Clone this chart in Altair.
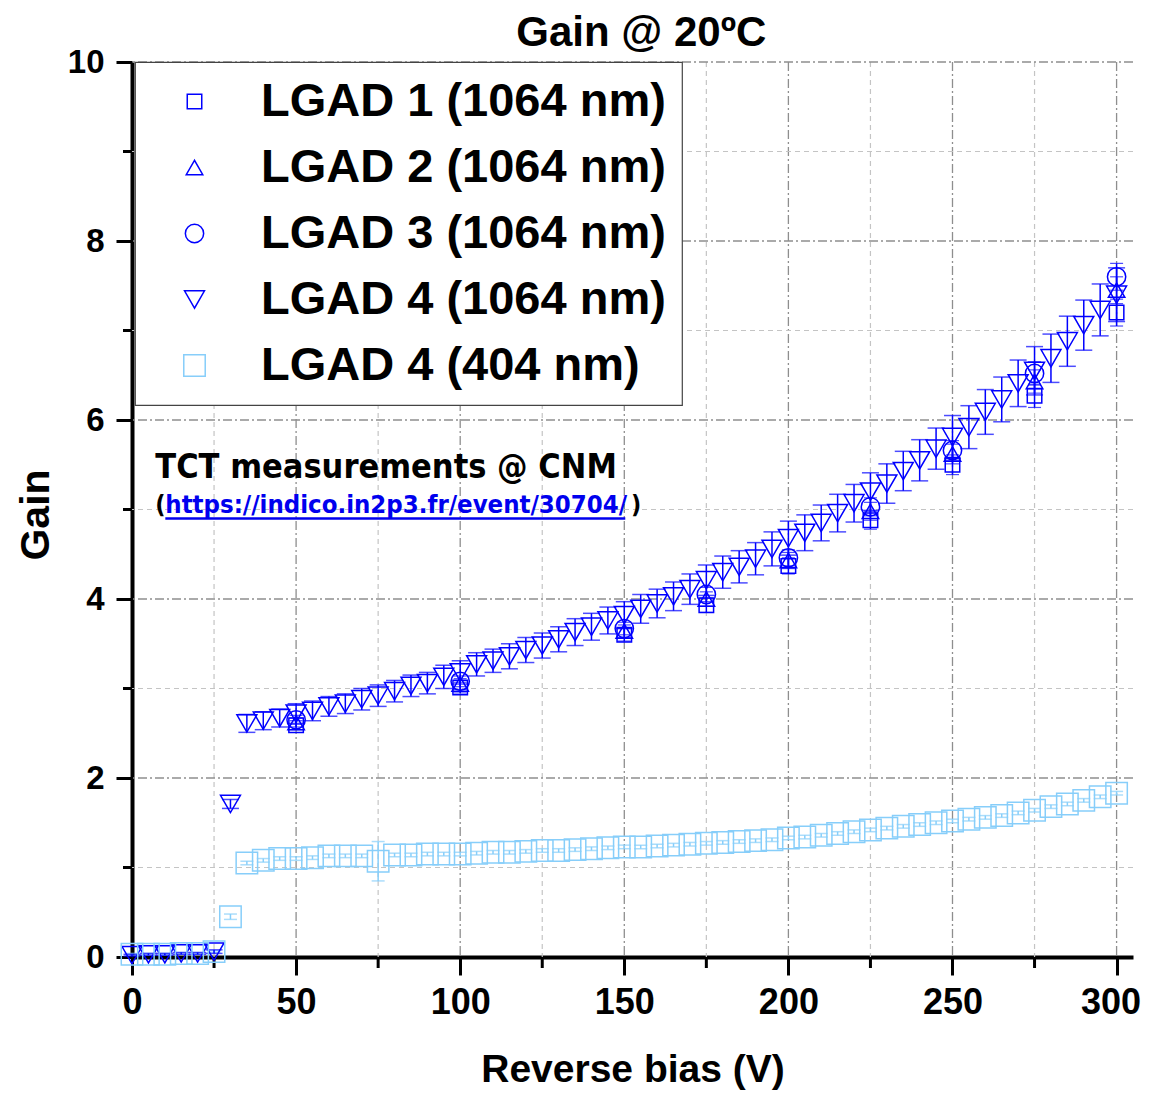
import altair as alt
import pandas as pd

# ---------------- data ----------------
bias_5v = list(range(0, 305, 5))

gain_lgad4_1064 = [0.02, 0.03, 0.03, 0.04, 0.04, 0.06, 1.71,
                   2.61, 2.64, 2.67, 2.72, 2.75, 2.80, 2.83, 2.88, 2.92, 2.97, 3.03, 3.06, 3.13,
                   3.18, 3.27, 3.31, 3.36, 3.43, 3.48, 3.55, 3.63, 3.69, 3.76, 3.82, 3.89, 3.95,
                   4.03, 4.11, 4.21, 4.30, 4.36, 4.45, 4.56, 4.68,
                   4.74, 4.85, 4.96, 5.07, 5.20, 5.29, 5.43, 5.55, 5.68, 5.81,
                   5.92, 6.09, 6.23, 6.41, 6.55, 6.69, 6.88, 7.06, 7.23, 7.40]
err_lgad4_1064 = [0.01, 0.01, 0.01, 0.01, 0.01, 0.02, 0.05,
                  0.10, 0.10, 0.10, 0.11, 0.11, 0.11, 0.11, 0.12, 0.12, 0.12, 0.12, 0.12, 0.13,
                  0.13, 0.13, 0.13, 0.14, 0.14, 0.14, 0.14, 0.15, 0.15, 0.15, 0.15, 0.16, 0.16,
                  0.16, 0.17, 0.17, 0.18, 0.18, 0.18, 0.19, 0.19,
                  0.20, 0.20, 0.21, 0.21, 0.21, 0.22, 0.22, 0.23, 0.23, 0.24,
                  0.24, 0.25, 0.25, 0.26, 0.27, 0.27, 0.28, 0.28, 0.29, 0.30]

gain_lgad4_404 = [0.03, 0.03, 0.03, 0.04, 0.04, 0.06, 0.45,
                  1.05, 1.08, 1.10, 1.10, 1.11, 1.13, 1.13, 1.13, 1.07, 1.14, 1.14, 1.15, 1.15,
                  1.15, 1.16, 1.17, 1.17, 1.18, 1.19, 1.19, 1.20, 1.21, 1.22, 1.23, 1.23, 1.24,
                  1.25, 1.26, 1.27, 1.28, 1.29, 1.30, 1.31, 1.33,
                  1.34, 1.36, 1.38, 1.40, 1.42, 1.44, 1.46, 1.48, 1.50, 1.52,
                  1.54, 1.56, 1.58, 1.61, 1.64, 1.68, 1.71, 1.75, 1.79, 1.83]
err_lgad4_404 = [0.01, 0.01, 0.01, 0.01, 0.01, 0.01, 0.03,
                 0.02, 0.02, 0.02, 0.02, 0.02, 0.02, 0.02, 0.02, 0.22, 0.02, 0.02, 0.02, 0.02,
                 0.02, 0.02, 0.02, 0.02, 0.02, 0.02, 0.02, 0.02, 0.02, 0.02, 0.02, 0.02, 0.02,
                 0.02, 0.02, 0.02, 0.02, 0.02, 0.02, 0.02, 0.02,
                 0.02, 0.02, 0.02, 0.02, 0.02, 0.02, 0.02, 0.02, 0.02, 0.02,
                 0.02, 0.02, 0.02, 0.02, 0.02, 0.02, 0.02, 0.02, 0.02, 0.02]

bias_sparse = [50, 100, 150, 175, 200, 225, 250, 275, 300]
gain_lgad1 = [2.59, 3.01, 3.60, 3.93, 4.37, 4.88, 5.50, 6.27, 7.20]
gain_lgad2 = [2.62, 3.05, 3.64, 4.00, 4.43, 4.98, 5.62, 6.43, 7.45]
gain_lgad3 = [2.65, 3.08, 3.67, 4.05, 4.46, 5.03, 5.66, 6.52, 7.60]
err_lgad123 = [0.05, 0.06, 0.07, 0.08, 0.09, 0.10, 0.11, 0.13, 0.15]

series_names = ["LGAD 1 (1064 nm)", "LGAD 2 (1064 nm)", "LGAD 3 (1064 nm)",
                "LGAD 4 (1064 nm)", "LGAD 4 (404 nm)"]
series_shapes = ["square", "triangle-up", "circle", "triangle-down", "square"]
series_colors = ["#0000FF", "#0000FF", "#0000FF", "#0000FF", "#87CEFA"]
series_sizes = [210, 460, 330, 480, 185]

x_major = [0, 50, 100, 150, 200, 250, 300]
x_minor = [25, 75, 125, 175, 225, 275]
y_major = [0, 2, 4, 6, 8, 10]
y_minor = [1, 3, 5, 7, 9]

title_text = "Gain @ 20ºC"
note_line1 = "TCT measurements @ CNM"
note_url = "https://indico.in2p3.fr/event/30704/"

# ---------------- tables ----------------
def frame(name, xs, ys, es):
    d = pd.DataFrame({"series": name, "bias": xs, "gain": ys, "err": es})
    d["lo"] = d["gain"] - d["err"]
    d["hi"] = d["gain"] + d["err"]
    return d

df_pts = pd.concat([
    frame(series_names[3], bias_5v, gain_lgad4_1064, err_lgad4_1064),
    frame(series_names[4], bias_5v, gain_lgad4_404, err_lgad4_404),
    frame(series_names[0], bias_sparse, gain_lgad1, err_lgad123),
    frame(series_names[1], bias_sparse, gain_lgad2, err_lgad123),
    frame(series_names[2], bias_sparse, gain_lgad3, err_lgad123),
], ignore_index=True)

df_blue = df_pts[df_pts["series"] != series_names[4]]
df_l4_1064 = df_pts[df_pts["series"] == series_names[3]]
df_l123 = df_pts[df_pts["series"].isin(series_names[:3])]
df_light = df_pts[df_pts["series"] == series_names[4]]

SANS = "Liberation Sans, Arial, Helvetica"
NOTE = "DejaVu Sans Condensed, DejaVu Sans, Verdana"

xscale = alt.Scale(domain=[0, 305], nice=False, zero=False)
yscale = alt.Scale(domain=[0, 10], nice=False, zero=False)

xaxis = alt.Axis(values=x_major, title="Reverse bias (V)", grid=False,
                 tickSize=18, tickWidth=3, tickColor="black",
                 domainWidth=4, domainColor="black",
                 labelFont=SANS, labelFontSize=36, labelFontWeight="bold",
                 labelColor="black", labelPadding=10, labelFlush=False,
                 labelOverlap=False,
                 labelOffset={"condition": {"test": "datum.value == 300", "value": -6},
                              "value": 0},
                 titleFont=SANS, titleFontSize=39, titleFontWeight="bold",
                 titleColor="black", titleBaseline="alphabetic", titleY=124)
yaxis = alt.Axis(values=y_major, title="Gain", grid=False,
                 tickSize=16, tickWidth=3, tickColor="black",
                 domainWidth=4, domainColor="black",
                 labelFont=SANS, labelFontSize=33, labelFontWeight="bold",
                 labelColor="black", labelPadding=12, labelFlush=False,
                 labelOverlap=False,
                 titleFont=SANS, titleFontSize=41, titleFontWeight="bold",
                 titleColor="black", titleAngle=270, titleBaseline="alphabetic",
                 titleX=-84, titleY=452.5, titleAlign="center")


def X(field):
    return alt.X(field, type="quantitative", scale=xscale, axis=xaxis)


def Y(field):
    return alt.Y(field, type="quantitative", scale=yscale, axis=yaxis)


# grid lines
grid_x_minor = alt.Chart(pd.DataFrame({"v": x_minor})).mark_rule(
    color="#c4c4c4", strokeDash=[5, 4], strokeWidth=1.2).encode(x=X("v"))
grid_x_major = alt.Chart(pd.DataFrame({"v": x_major[1:]})).mark_rule(
    color="#8e8e8e", strokeDash=[9, 3, 2, 3], strokeWidth=1.3).encode(x=X("v"))
grid_y_minor = alt.Chart(pd.DataFrame({"v": y_minor})).mark_rule(
    color="#c4c4c4", strokeDash=[5, 4], strokeWidth=1.2).encode(y=Y("v"))
grid_y_major = alt.Chart(pd.DataFrame({"v": y_major[1:]})).mark_rule(
    color="#8e8e8e", strokeDash=[9, 3, 2, 3], strokeWidth=1.3).encode(y=Y("v"))

# minor ticks
minor_x_ticks = alt.Chart(pd.DataFrame({"v": x_minor})).mark_rule(
    color="black", strokeWidth=3).encode(x=X("v"), y=alt.value(895), y2=alt.value(906))
minor_y_ticks = alt.Chart(pd.DataFrame({"v": y_minor})).mark_rule(
    color="black", strokeWidth=3).encode(y=Y("v"), x=alt.value(0), x2=alt.value(-9))

# error bars
err_blue = alt.Chart(df_blue).mark_rule(color="#0000FF", strokeWidth=1.5).encode(
    x=X("bias"), y=Y("lo"), y2="hi")
cap_l4_lo = alt.Chart(df_l4_1064).mark_tick(
    color="#0000FF", orient="horizontal", size=17, thickness=1.5).encode(x=X("bias"), y=Y("lo"))
cap_l4_hi = alt.Chart(df_l4_1064).mark_tick(
    color="#0000FF", orient="horizontal", size=17, thickness=1.5).encode(x=X("bias"), y=Y("hi"))
cap_l123_lo = alt.Chart(df_l123).mark_tick(
    color="#0000FF", orient="horizontal", size=13, thickness=1.2).encode(x=X("bias"), y=Y("lo"))
cap_l123_hi = alt.Chart(df_l123).mark_tick(
    color="#0000FF", orient="horizontal", size=13, thickness=1.2).encode(x=X("bias"), y=Y("hi"))
err_light = alt.Chart(df_light).mark_rule(color="#87CEFA", strokeWidth=1.5).encode(
    x=X("bias"), y=Y("lo"), y2="hi")
cap_light_lo = alt.Chart(df_light).mark_tick(
    color="#87CEFA", orient="horizontal", size=13, thickness=1.5).encode(x=X("bias"), y=Y("lo"))
cap_light_hi = alt.Chart(df_light).mark_tick(
    color="#87CEFA", orient="horizontal", size=13, thickness=1.5).encode(x=X("bias"), y=Y("hi"))

legend = alt.Legend(title=None, orient="none", legendX=3, legendY=0,
                    padding=16, rowPadding=18, symbolOffset=20, labelOffset=43,
                    symbolSize=260, symbolStrokeWidth=1.5,
                    labelFont=SANS, labelFontSize=47, labelFontWeight="bold",
                    labelColor="black", labelLimit=900,
                    fillColor="white", strokeColor="#444444")

points = alt.Chart(df_pts).mark_point(filled=False, strokeWidth=1.5, opacity=1).encode(
    x=X("bias"), y=Y("gain"),
    color=alt.Color("series:N", scale=alt.Scale(domain=series_names, range=series_colors),
                    legend=legend),
    shape=alt.Shape("series:N", scale=alt.Scale(domain=series_names, range=series_shapes),
                    legend=legend),
    size=alt.Size("series:N", scale=alt.Scale(domain=series_names, range=series_sizes),
                  legend=None),
)

# title and annotation as text marks
title_mark = alt.Chart(pd.DataFrame({"bias": [155.2], "gain": [10.18], "txt": [title_text]})).mark_text(
    align="center", baseline="alphabetic", font=SANS, fontSize=42, fontWeight="bold",
    color="black").encode(x=X("bias"), y=Y("gain"), text="txt:N")
note_df = pd.DataFrame({"bias": [7.1], "gain": [5.35], "txt": [note_line1]})
note1 = alt.Chart(note_df).mark_text(
    align="left", baseline="alphabetic", font=NOTE, fontSize=34, fontWeight="bold",
    color="black").encode(x=X("bias"), y=Y("gain"), text="txt:N")
paren_l = alt.Chart(pd.DataFrame({"bias": [7.1], "gain": [4.96], "txt": ["("]})).mark_text(
    align="left", baseline="alphabetic", font=NOTE, fontSize=25, fontWeight="bold",
    color="black").encode(x=X("bias"), y=Y("gain"), text="txt:N")
url = alt.Chart(pd.DataFrame({"bias": [10.15], "gain": [4.96], "txt": [note_url]})).mark_text(
    align="left", baseline="alphabetic", font=NOTE, fontSize=25.5, fontWeight="bold",
    color="#0000EE").encode(x=X("bias"), y=Y("gain"), text="txt:N")
paren_r = alt.Chart(pd.DataFrame({"bias": [155.2], "gain": [4.96], "txt": [" )"]})).mark_text(
    align="right", baseline="alphabetic", font=NOTE, fontSize=25, fontWeight="bold",
    color="black").encode(x=X("bias"), y=Y("gain"), text="txt:N")
underline = alt.Chart(pd.DataFrame({"bias": [10.15], "bias2": [150.3], "gain": [4.90]})).mark_rule(
    color="#0000EE", strokeWidth=2.5).encode(x=X("bias"), x2="bias2", y=Y("gain"))

chart = alt.layer(
    grid_x_minor, grid_x_major, grid_y_minor, grid_y_major,
    minor_x_ticks, minor_y_ticks,
    err_light, cap_light_lo, cap_light_hi,
    err_blue, cap_l4_lo, cap_l4_hi, cap_l123_lo, cap_l123_hi,
    points,
    title_mark, note1, paren_l, url, paren_r, underline,
).properties(
    width=1001, height=895,
    autosize=alt.AutoSizeParams(type="none"),
    padding={"left": 124, "top": 54, "right": 8, "bottom": 133},
).configure_view(stroke=None).configure_legend(strokeWidth=1.2)

chart.save("out.html", embed_options={"renderer": "svg", "actions": False})
